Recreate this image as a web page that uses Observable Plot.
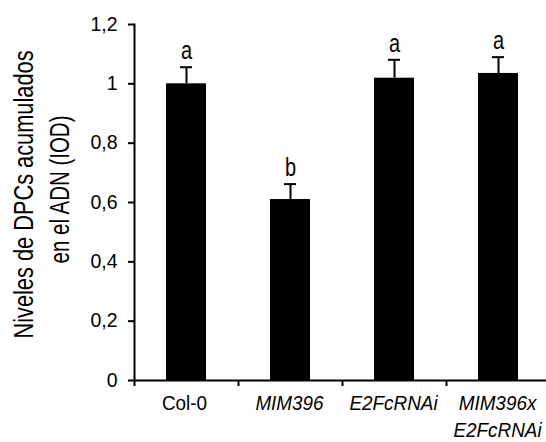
<!DOCTYPE html>
<html><head><meta charset="utf-8">
<script src="https://cdn.jsdelivr.net/npm/d3@7"></script>
<script src="https://cdn.jsdelivr.net/npm/@observablehq/plot@0.6"></script>
<style>body{margin:0;background:#fff}</style>
</head><body><div id="chart"></div>
<script>
const categories = ["Col-0", "MIM396", "E2FcRNAi", "MIM396x\nE2FcRNAi"];
const means = [1.0, 0.61, 1.019, 1.035];
const errors = [0.056, 0.052, 0.062, 0.055];
const letters = ["a", "b", "a", "a"];
const italic = [false, true, true, true];
const yTicks = [0, 0.2, 0.4, 0.6, 0.8, 1, 1.2];
const yLabelLines = ["Niveles de DPCs acumulados", "en el ADN (IOD)"];

const data = categories.map((c, i) => ({cat: c, mean: means[i], top: means[i] + errors[i], letter: letters[i], italic: italic[i]}));
const font = "'Liberation Sans',Arial,sans-serif";

const plot = Plot.plot({
  width: 546, height: 442, marginLeft: 134, marginRight: 0, marginTop: 24, marginBottom: 62,
  style: {fontFamily: font, background: "#fff", color: "#000", overflow: "visible"},
  x: {domain: categories, range: [134, 550], paddingInner: 0.615, paddingOuter: 0.3075, axis: null},
  y: {domain: [0, 1.2], axis: null},
  marks: [
    Plot.barY(data, {x: "cat", y: "mean", fill: "#000"}),
    Plot.ruleX(data, {x: "cat", y1: "mean", y2: "top", stroke: "#000", strokeWidth: 2}),
    Plot.tickY(data, {x: "cat", y: "top", stroke: "#000", strokeWidth: 2, insetLeft: 14, insetRight: 14}),
    Plot.text(data, {x: "cat", y: "top", text: "letter", dy: -8, lineAnchor: "bottom", fontSize: 25, fill: "#000", className: "cmp-letter"}),
    Plot.axisY({ticks: yTicks, tickSize: 6, tickPadding: 11, tickFormat: d => String(d).replace(".", ","), fontSize: 19.5, strokeWidth: 2, label: null}),
    Plot.frame({anchor: "left", stroke: "#000", strokeWidth: 2}),
    Plot.ruleY([0], {stroke: "#000", strokeWidth: 2}),
    Plot.ruleX(categories, {x: d => d, y1: 0, y2: 0, dx: -52, insetBottom: -6, stroke: "#000", strokeWidth: 2}),
    Plot.text(data.filter(d => !d.italic), {x: "cat", text: "cat", frameAnchor: "bottom", lineAnchor: "top", dy: 10, dx: -2, fontSize: 21, lineHeight: 1.3, fill: "#000", className: "cmp-x"}),
    Plot.text(data.filter(d => d.italic), {x: "cat", text: "cat", frameAnchor: "bottom", lineAnchor: "top", dy: 10, dx: -1, fontSize: 21, lineHeight: 1.3, fontStyle: "italic", fill: "#000", className: "cmp-x"}),
    Plot.text(yLabelLines.slice(0, 1), {text: d => d, frameAnchor: "left", rotate: -90, textAnchor: "middle", lineAnchor: "middle", fontSize: 28, dx: -110, dy: -8, fill: "#000", className: "cmp-ylabel1"}),
    Plot.text(yLabelLines.slice(1), {text: d => d, frameAnchor: "left", rotate: -90, textAnchor: "middle", lineAnchor: "middle", fontSize: 28, dx: -74, dy: -13, fill: "#000", className: "cmp-ylabel2"})
  ]
});
document.getElementById("chart").appendChild(plot);

// horizontally condense glyphs (narrow typeface look) about each text's anchor
function condense(cls, ratio) {
  plot.querySelectorAll(`.${cls} text`).forEach(t => {
    const tr = t.getAttribute("transform") || "";
    t.setAttribute("transform", `${tr} scale(${ratio},1)`.trim());
  });
}
// condense to a target run length (in px) along the text direction
function condenseTo(cls, length) {
  plot.querySelectorAll(`.${cls} text`).forEach(t => {
    const L = t.getComputedTextLength();
    const r = L > 0 ? Math.min(1, length / L) : 0.76;
    const tr = t.getAttribute("transform") || "";
    t.setAttribute("transform", `${tr} scale(${r.toFixed(3)},1)`.trim());
  });
}
condense("cmp-letter", 0.8);
condense("cmp-x", 0.9);
condenseTo("cmp-ylabel1", 288);
condenseTo("cmp-ylabel2", 148);
</script>
</body></html>
